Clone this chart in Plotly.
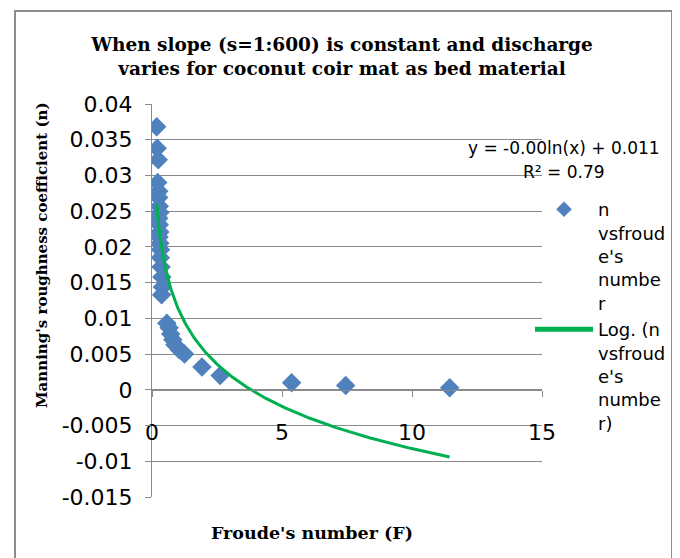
import numpy as np
import plotly.graph_objects as go

# Froude's number (F) and Manning's n
froude = [0.18, 0.20, 0.24, 0.22, 0.26, 0.26, 0.28, 0.30, 0.26, 0.28, 0.30, 0.27,
          0.30, 0.33, 0.32, 0.35, 0.38, 0.40, 0.37, 0.57, 0.66, 0.72, 0.80, 0.88,
          1.05, 1.25, 1.92, 2.62, 5.37, 7.45, 11.45]
manning_n = [0.0368, 0.0338, 0.0322, 0.0290, 0.0278, 0.0269, 0.0257, 0.0248, 0.0240,
             0.0231, 0.0221, 0.0214, 0.0205, 0.0196, 0.0185, 0.0172, 0.0158, 0.0144,
             0.0133, 0.0093, 0.0087, 0.0078, 0.0070, 0.0063, 0.0056, 0.0050, 0.0032,
             0.0020, 0.0010, 0.0006, 0.0003]

y_tickvals = [0.04, 0.035, 0.03, 0.025, 0.02, 0.015, 0.01, 0.005, 0, -0.005, -0.01, -0.015]
y_ticktext = ["0.04", "0.035", "0.03", "0.025", "0.02", "0.015", "0.01", "0.005", "0",
              "-0.005", "-0.01", "-0.015"]
x_tickvals = [0, 5, 10, 15]

series_name = "n<br>vsfroud<br>e's<br>numbe<br>r"
trend_name = "Log. (n<br>vsfroud<br>e's<br>numbe<br>r)"
equation_text = "y = -0.00ln(x) + 0.011"
r2_text = "R² = 0.79"

# logarithmic trendline fitted to the data
a, b = np.polyfit(np.log(froude), manning_n, 1)
xf = np.linspace(min(froude), max(froude), 300)
yf = a * np.log(xf) + b

# page offset (body margin) compensation
OFF = 8
W, H = 680, 558
L, T = 152 - OFF, 104 - OFF
pw, ph = 390, 393
R = W - L - pw
B = H - T - ph
def px(x):
    return (x - OFF - L) / pw
def py(y):
    return (T + ph - (y - OFF)) / ph

YMIN, YMAX = -0.015, 0.04
GRID = "#8a8a8a"

fig = go.Figure()
fig.add_trace(go.Scatter(
    x=froude, y=manning_n, mode="markers", name=series_name,
    marker=dict(symbol="diamond", size=15, color="#4F81BD"),
))
fig.add_trace(go.Scatter(
    x=xf, y=yf, mode="lines", name=trend_name,
    line=dict(color="#00B050", width=3),
))

fig.update_layout(
    width=W, height=H,
    margin=dict(l=L, r=R, t=T, b=B, autoexpand=False),
    paper_bgcolor="white", plot_bgcolor="white",
    title=dict(
        text="When slope (s=1:600) is constant and discharge<br>varies for coconut coir mat as bed material",
        x=(342 - OFF) / W, xref="container", xanchor="center",
        y=1 - (51 - OFF) / H, yref="container", yanchor="middle",
        font=dict(family="DejaVu Serif", size=18.5, color="black", weight="bold"),
    ),
    font=dict(family="DejaVu Sans", color="black"),
    showlegend=True,
    legend=dict(
        x=px(530), y=py(191), xanchor="left", yanchor="top",
        font=dict(family="DejaVu Sans", size=18, color="black"),
        bgcolor="rgba(0,0,0,0)", valign="top", itemsizing="constant",
        itemwidth=58, tracegroupgap=0,
    ),
    xaxis=dict(
        range=[0, 15], tickvals=x_tickvals, showgrid=False, zeroline=False,
        showline=True, linecolor=GRID, linewidth=1,
        ticks="outside", ticklen=6, tickcolor=GRID,
        anchor="free", position=(0 - YMIN) / (YMAX - YMIN),
        tickfont=dict(family="DejaVu Sans", size=22, color="black"),
        ticklabelstandoff=17,
    ),
    yaxis=dict(
        range=[YMIN, YMAX], tickvals=y_tickvals, ticktext=y_ticktext,
        showgrid=True, gridcolor=GRID, gridwidth=1,
        zeroline=False, showline=True, linecolor=GRID, linewidth=1,
        ticks="outside", ticklen=6, tickcolor=GRID,
        tickfont=dict(family="DejaVu Sans", size=22, color="black"),
        ticklabelstandoff=8,
    ),
    annotations=[
        dict(text="Manning's roughness coefficient (n)", textangle=-90,
             x=px(42), y=py(256), xref="paper", yref="paper", showarrow=False,
             xanchor="center", yanchor="middle",
             font=dict(family="DejaVu Serif", size=15, color="black", weight="bold")),
        dict(text="Froude's number (F)",
             x=px(312), y=py(533), xref="paper", yref="paper", showarrow=False,
             xanchor="center", yanchor="middle",
             font=dict(family="DejaVu Serif", size=17.5, color="black", weight="bold")),
        dict(text=equation_text, x=px(564), y=py(148), xref="paper", yref="paper",
             showarrow=False, xanchor="center", yanchor="middle",
             font=dict(family="DejaVu Sans", size=17, color="black")),
        dict(text=r2_text, x=px(564), y=py(172), xref="paper", yref="paper",
             showarrow=False, xanchor="center", yanchor="middle",
             font=dict(family="DejaVu Sans", size=17, color="black")),
    ],
    shapes=[
        dict(type="rect", xref="paper", yref="paper",
             x0=px(15), x1=px(672), y0=py(580), y1=py(11),
             line=dict(color="#8c8c8c", width=2), fillcolor="rgba(0,0,0,0)"),
    ],
)

fig.write_html("out.html")
